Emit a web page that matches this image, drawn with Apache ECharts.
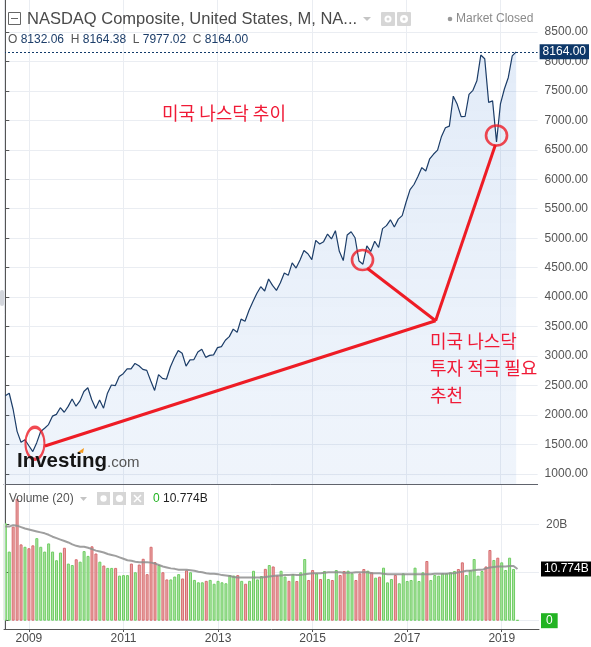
<!DOCTYPE html>
<html><head><meta charset="utf-8">
<script src="https://cdn.jsdelivr.net/npm/echarts@6/dist/echarts.min.js"></script>
<style>html,body{margin:0;padding:0;background:#fff}#c{width:591px;height:647px}</style>
</head><body><div id="c"></div>
<script>
const months = [
'2008-07','2008-08','2008-09','2008-10','2008-11','2008-12',
'2009-01','2009-02','2009-03','2009-04','2009-05','2009-06','2009-07','2009-08','2009-09','2009-10','2009-11','2009-12',
'2010-01','2010-02','2010-03','2010-04','2010-05','2010-06','2010-07','2010-08','2010-09','2010-10','2010-11','2010-12',
'2011-01','2011-02','2011-03','2011-04','2011-05','2011-06','2011-07','2011-08','2011-09','2011-10','2011-11','2011-12',
'2012-01','2012-02','2012-03','2012-04','2012-05','2012-06','2012-07','2012-08','2012-09','2012-10','2012-11','2012-12',
'2013-01','2013-02','2013-03','2013-04','2013-05','2013-06','2013-07','2013-08','2013-09','2013-10','2013-11','2013-12',
'2014-01','2014-02','2014-03','2014-04','2014-05','2014-06','2014-07','2014-08','2014-09','2014-10','2014-11','2014-12',
'2015-01','2015-02','2015-03','2015-04','2015-05','2015-06','2015-07','2015-08','2015-09','2015-10','2015-11','2015-12',
'2016-01','2016-02','2016-03','2016-04','2016-05','2016-06','2016-07','2016-08','2016-09','2016-10','2016-11','2016-12',
'2017-01','2017-02','2017-03','2017-04','2017-05','2017-06','2017-07','2017-08','2017-09','2017-10','2017-11','2017-12',
'2018-01','2018-02','2018-03','2018-04','2018-05','2018-06','2018-07','2018-08','2018-09','2018-10','2018-11','2018-12',
'2019-01','2019-02','2019-03','2019-04','2019-05'];

const closes = [2325.55,2367.52,2091.88,1720.95,1535.57,1577.03,
1476.42,1377.84,1528.59,1717.30,1774.33,1835.04,1978.50,2009.06,2122.42,2045.11,2144.60,2269.15,
2147.35,2238.26,2397.96,2461.19,2257.04,2109.24,2254.70,2114.03,2368.62,2507.41,2498.23,2652.87,
2700.08,2782.27,2781.07,2873.54,2835.30,2773.52,2756.38,2579.46,2415.40,2684.41,2620.34,2605.15,
2813.84,2966.89,3091.57,3046.36,2827.34,2935.05,2939.52,3066.96,3116.23,2977.23,3010.24,3019.51,
3142.13,3160.19,3267.52,3328.79,3455.91,3403.25,3626.37,3589.87,3771.48,3919.71,4059.89,4176.59,
4103.88,4308.12,4198.99,4114.56,4242.62,4408.18,4369.77,4580.27,4493.39,4630.74,4791.63,4736.05,
4635.24,4963.53,4900.88,4941.42,5070.03,4986.87,5128.28,4776.51,4620.16,5053.75,5108.67,5007.41,
4613.95,4557.95,4869.85,4775.36,4948.06,4842.67,5162.13,5213.22,5312.00,5189.14,5323.68,5383.12,
5614.79,5825.44,5911.74,6047.61,6198.52,6140.42,6348.12,6428.66,6495.96,6727.67,6873.97,6903.39,
7411.48,7273.01,7063.45,7066.27,7442.12,7510.30,7671.79,8109.54,8046.35,7305.90,7330.54,6635.28,
7281.74,7532.53,7729.32,8095.39,8164.00];

// monthly volume, billions
const volumes = [20.3,14.4,19.6,25.4,15.9,15.4,15.1,15.7,17.2,15.4,14.4,16.1,14.4,12.6,14.2,15.2,11.9,11.6,12.8,12.3,14.5,13.5,15.5,14.0,12.3,11.5,11.0,
11.0,11.0,9.4,9.5,9.5,11.9,10.1,11.7,12.9,9.7,15.4,12.2,11.6,10.1,8.6,8.6,9.2,9.7,8.8,10.5,10.1,8.5,8.0,8.0,8.3,8.5,7.7,8.3,8.0,7.8,9.5,9.4,9.5,8.3,7.7,8.3,10.4,8.6,9.3,10.8,11.6,11.3,9.4,10.4,9.2,8.3,9.7,
8.27,10.08,12.85,8.48,10.56,9.87,8.69,10.35,8.69,8.48,10.56,9.52,10.35,10.42,9.87,8.48,9.87,10.77,10.42,10.08,8.97,9.17,11.05,7.99,8.69,9.52,7.8,9.87,8.27,8.48,11.05,8.27,10.08,12.44,8.48,9.52,9.38,9.87,9.87,10.08,10.35,10.77,12.16,9.52,10.56,12.85,9.38,10.35,11.3,14.73,12.65,13.13,12.16,10.56,13.13,10.77,0.15];

// 20-period volume average as drawn, billions
const volMA = [19.6,19.6,19.9,19.8,19.5,19.2,19.0,18.8,18.6,18.4,
18.2,17.9,17.5,17.2,16.9,16.6,16.3,15.9,15.6,15.4,
15.4,15.2,14.9,14.6,14.4,14.2,13.9,13.7,13.5,13.2,
12.9,12.6,12.5,12.3,12.2,12.2,12.2,12.1,11.9,11.6,
11.3,11.1,10.9,10.8,10.6,10.6,10.6,10.5,10.4,10.2,
10.1,9.9,9.8,9.8,9.7,9.5,9.4,9.3,9.1,9.0,
9.0,9.0,9.0,9.0,9.0,9.0,9.1,9.2,9.3,9.4,
9.4,9.5,9.5,9.6,9.5,9.5,9.7,9.8,9.9,9.9,
9.9,10.0,10.1,10.1,10.1,10.1,10.0,10.0,10.0,10.1,
10.1,10.1,10.1,9.9,9.9,9.9,9.8,9.7,9.7,9.7,
9.7,9.7,9.7,9.7,9.7,9.7,9.7,9.7,9.7,9.8,
9.8,9.8,9.8,9.9,9.9,10.1,10.2,10.4,10.4,10.5,
10.6,10.6,10.9,11.1,11.2,11.3,11.3,11.3,11.4,11.4,
10.774];

// bar direction as coloured: u = up (green), d = down (red)
const volDir = ('uudddu'+'dduuuuuuuduu'+'duuudduduudu'+'uududddddudd'+'uuudduuuuduu'+'uuuuududuuuu'+'dudduududuud'+'duduududduud'+'ddududuuuduu'+'uuuuuduuuuuu'+'udduuuuuddud'+'uuuuu').split('');

const yearTicks = ['2009','2011','2013','2015','2017','2019'];
const priceTicks = [1000,1500,2000,2500,3000,3500,4000,4500,5000,5500,6000,6500,7000,7500,8000,8500];
const volGridTicks = [0,10,20];
const volLabelTicks = [20];
const ohlc = {O:'8132.06', H:'8164.38', L:'7977.02', C:'8164.00'};
const lastVolAvg = 10.774;

// annotation (month index, price)
const annCircles = [[7.54,1518],[90.9,4630],[125.0,6744]];
const annJoin = [109.5,3599];
const annStarts = [[10.08,1472],[92.1,4489],[124.7,6582]];

const chart = echarts.init(document.getElementById('c'), null, {renderer:'canvas'});
const yearIdx = yearTicks.map(y => months.indexOf(y + '-01'));
const xMin = -0.33, xMax = 135.46;
const red = '#ee1c25';
const txtRed = '#f01a36';
const FONT = '"Liberation Sans", Arial, sans-serif';
const KFONT = '18px "Noto Sans CJK KR"';

const volData = volumes.map((v, i) => {
  const up = volDir[i] === 'u';
  return {value:[i, v], itemStyle:{color: up ? '#aee4a5' : '#e9abab', borderColor: up ? '#6fcd63' : '#d76a6d', borderWidth:1}};
});

const hidden = {color:'rgba(0,0,0,0)', width:0};

const option = {
  animation:false,
  textStyle:{fontFamily:FONT},
  grid:[{left:4,right:52,top:0,height:484},{left:4,right:52,top:484,height:145}],
  xAxis:[
    {type:'value',gridIndex:0,min:xMin,max:xMax,
     axisLine:{show:true,onZero:false,lineStyle:{color:'#60636c'}},
     axisTick:{show:false,customValues:yearIdx},axisLabel:{show:false},
     splitLine:{show:true,lineStyle:{color:'#eaedf2'}}},
    {type:'value',gridIndex:1,min:xMin,max:xMax,
     axisLine:{show:true,onZero:false,lineStyle:{color:'#555'}},
     axisTick:{show:true,length:3,customValues:yearIdx,lineStyle:{color:'#555'}},
     axisLabel:{customValues:yearIdx,formatter:v=>months[Math.round(v)].slice(0,4),color:'#4a4a4a',fontSize:12,margin:4},
     splitLine:{show:true,lineStyle:{color:'#eaedf2'}}}
  ],
  yAxis:[
    {type:'value',gridIndex:0,position:'right',min:826.8,max:9044,
     axisLine:{show:true,lineStyle:{color:'#555'}},
     axisTick:{show:true,length:4,customValues:priceTicks,lineStyle:{color:'#555'}},
     axisLabel:{customValues:priceTicks,formatter:v=>v.toFixed(2),color:'#555',fontSize:12,margin:7},
     splitLine:{show:true,lineStyle:{color:'#eaedf2'}}},
    {type:'value',gridIndex:1,position:'right',min:-1.73,max:28.48,
     axisLine:{show:true,lineStyle:{color:'#555'}},
     axisTick:{show:true,length:4,customValues:volGridTicks,lineStyle:{color:'#555'}},
     axisLabel:{customValues:volLabelTicks,formatter:v=>v+'B',color:'#555',fontSize:12,margin:7},
     splitLine:{show:true,lineStyle:{color:'#eaedf2'}}}
  ],
  series:[
    {type:'line',xAxisIndex:0,yAxisIndex:0,data:closes.map((v,i)=>[i,v]),
     showSymbol:false,symbol:'none',lineStyle:{color:'#1c3d68',width:1.2},
     areaStyle:{origin:'start',color:new echarts.graphic.LinearGradient(0,0,0,1,[
       {offset:0,color:'rgba(40,110,205,0.19)'},{offset:1,color:'rgba(40,110,205,0.10)'}])},
     markLine:{silent:true,symbol:['none','none'],animation:false,
       data:[
        {yAxis:closes[closes.length-1],lineStyle:{type:[2,2],color:'#123b6a',width:1},
         label:{show:true,position:'end',formatter:closes[closes.length-1].toFixed(2),backgroundColor:'#0e3869',color:'#fff',padding:[2,3,1,3],fontSize:12,distance:2}},
        ...annStarts.map(s=>[{coord:s,lineStyle:{color:red,width:3,type:'solid'},label:{show:false}},{coord:annJoin}])
       ]}
    },
    {type:'scatter',xAxisIndex:0,yAxisIndex:0,z:5,
     data:annCircles.map((c,k)=>({value:c,symbolSize:k===0?[19,32]:[21,20]})),
     itemStyle:{color:'rgba(0,0,0,0)',borderColor:red,borderWidth:2.6}},
    {type:'bar',xAxisIndex:1,yAxisIndex:1,barWidth:3,data:volData},
    {type:'line',xAxisIndex:1,yAxisIndex:1,data:volMA.map((v,i)=>[i,v]),showSymbol:false,symbol:'none',
     lineStyle:{color:'#8e8e8e',width:2,opacity:0.85},z:4,
     markLine:{silent:true,symbol:['none','none'],animation:false,
       data:[
        {yAxis:lastVolAvg,lineStyle:hidden,label:{show:true,position:'end',formatter:lastVolAvg+'B',backgroundColor:'#000',color:'#fff',padding:[2,3,1,3],fontSize:12,distance:2}},
        {yAxis:0,lineStyle:hidden,label:{show:true,position:'end',formatter:'0',backgroundColor:'#22b322',color:'#fff',padding:[2,5,1,5],fontSize:12,distance:2}}
       ]}
    }
  ],
  graphic:[
    {type:'line',shape:{x1:4.5,y1:0,x2:4.5,y2:629},style:{stroke:'#e1e4ea',lineWidth:1},z:100},
    {type:'rect',shape:{x:0,y:290,width:4,height:16,r:2},style:{fill:'#d3d6dc'},z:100},
    {type:'rect',shape:{x:8.5,y:12.5,width:12,height:12},style:{fill:'#fff',stroke:'#666',lineWidth:1},z:100},
    {type:'line',shape:{x1:11,y1:18.5,x2:18,y2:18.5},style:{stroke:'#666',lineWidth:1},z:100},
    {type:'text',x:27,y:19,z:100,style:{text:'NASDAQ Composite, United States, M, NA...',fill:'#4a4a4a',font:'16.5px '+FONT,verticalAlign:'middle'}},
    {type:'polygon',shape:{points:[[363,17],[371,17],[367,21]]},style:{fill:'#c4c4c4'},z:100},
    {type:'rect',shape:{x:381,y:12,width:14,height:14,r:1},style:{fill:'#d6d6d6'},z:100},
    {type:'circle',shape:{cx:388,cy:19,r:3.5},style:{fill:'#fff'},z:101},
    {type:'circle',shape:{cx:388,cy:19,r:1.5},style:{fill:'#d6d6d6'},z:102},
    {type:'rect',shape:{x:397,y:12,width:14,height:14,r:1},style:{fill:'#d6d6d6'},z:100},
    {type:'circle',shape:{cx:404,cy:19,r:4},style:{fill:'#fff'},z:101},
    {type:'circle',shape:{cx:404,cy:19,r:1.5},style:{fill:'#d6d6d6'},z:102},
    {type:'circle',shape:{cx:450,cy:19,r:2.3},style:{fill:'#999'},z:100},
    {type:'text',x:456,y:19,z:100,style:{text:'Market Closed',fill:'#8a8a8a',font:'12px '+FONT,verticalAlign:'middle'}},
    {type:'text',x:8,y:40,z:100,style:{text:'{l|O} {v|'+ohlc.O+'}  {l|H} {v|'+ohlc.H+'}  {l|L} {v|'+ohlc.L+'}  {l|C} {v|'+ohlc.C+'}',
      font:'12px '+FONT,verticalAlign:'middle',
      rich:{l:{fill:'#555',font:'12px '+FONT},v:{fill:'#1d3e6a',font:'12px '+FONT}}}},
    {type:'text',x:17,y:461,z:100,style:{text:'Investing',fill:'#151515',font:'bold 20.5px '+FONT,verticalAlign:'middle'}},
    {type:'text',x:107,y:463,z:100,style:{text:'.com',fill:'#555',font:'15px '+FONT,verticalAlign:'middle'}},
    {type:'polygon',shape:{points:[[78,452],[84,448],[83,453]]},style:{fill:'#f49a1e'},z:101},
    {type:'text',x:162,y:113,z:100,style:{text:'미국 나스닥 추이',fill:txtRed,font:KFONT,verticalAlign:'middle'}},
    {type:'text',x:430,y:341,z:100,style:{text:'미국 나스닥',fill:txtRed,font:KFONT,verticalAlign:'middle'}},
    {type:'text',x:430,y:368,z:100,style:{text:'투자 적극 필요',fill:txtRed,font:KFONT,verticalAlign:'middle'}},
    {type:'text',x:430,y:395,z:100,style:{text:'추천',fill:txtRed,font:KFONT,verticalAlign:'middle'}},
    {type:'text',x:9,y:499,z:100,style:{text:'Volume (20)',fill:'#555',font:'12px '+FONT,verticalAlign:'middle'}},
    {type:'polygon',shape:{points:[[80,497],[87,497],[83.5,501]]},style:{fill:'#c4c4c4'},z:100},
    {type:'rect',shape:{x:97,y:492,width:13,height:13},style:{fill:'#d6d6d6'},z:100},
    {type:'circle',shape:{cx:103.5,cy:498.5,r:3.2},style:{fill:'#fff'},z:101},
    {type:'rect',shape:{x:113,y:492,width:13,height:13},style:{fill:'#d6d6d6'},z:100},
    {type:'circle',shape:{cx:119.5,cy:498.5,r:3.6},style:{fill:'#fff'},z:101},
    {type:'rect',shape:{x:131,y:492,width:13,height:13},style:{fill:'#d6d6d6'},z:100},
    {type:'line',shape:{x1:134,y1:495,x2:141,y2:502},style:{stroke:'#fff',lineWidth:1.5},z:101},
    {type:'line',shape:{x1:141,y1:495,x2:134,y2:502},style:{stroke:'#fff',lineWidth:1.5},z:101},
    {type:'text',x:153,y:499,z:100,style:{text:'0',fill:'#22b322',font:'12px '+FONT,verticalAlign:'middle'}},
    {type:'text',x:163,y:499,z:100,style:{text:lastVolAvg+'B',fill:'#222',font:'12px '+FONT,verticalAlign:'middle'}}
  ]
};
chart.setOption(option);
</script></body></html>
